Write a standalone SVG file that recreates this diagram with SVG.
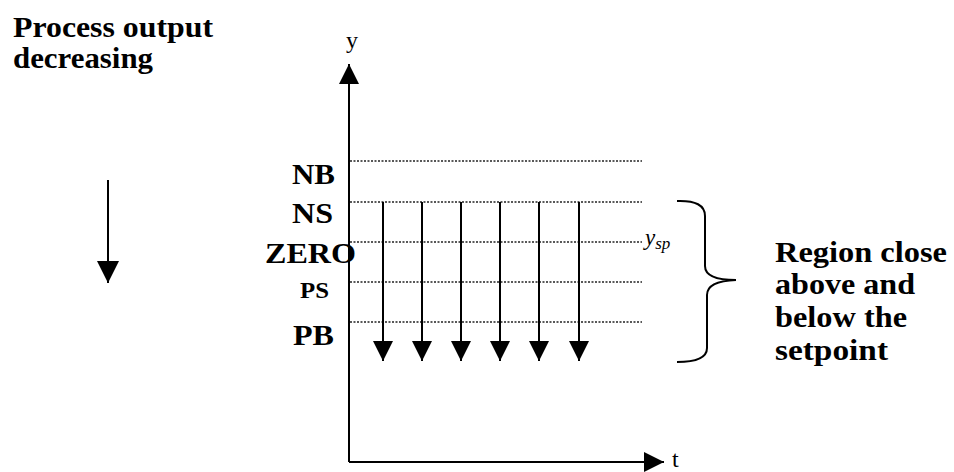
<svg xmlns="http://www.w3.org/2000/svg" width="954" height="472" viewBox="0 0 954 472">
<style>
.b{font-family:"Liberation Serif","Times New Roman",serif;font-weight:bold;fill:#000}
.r{font-family:"Liberation Serif","Times New Roman",serif;fill:#000}
.ax{stroke:#000;stroke-width:2;fill:none}
.dot{stroke:#222;stroke-width:1.3;stroke-dasharray:2 1.5;fill:none}
.arr{stroke:#000;stroke-width:2;fill:none}
</style>
<defs>
<marker id="ah" markerWidth="20" markerHeight="20" refX="20" refY="10" orient="auto" markerUnits="userSpaceOnUse">
<path d="M0,0 L20,10 L0,20 Z" fill="#000"/>
</marker>
<marker id="ahl" markerWidth="22" markerHeight="22" refX="22" refY="11" orient="auto" markerUnits="userSpaceOnUse">
<path d="M0,0 L22,11 L0,22 Z" fill="#000"/>
</marker>
</defs>
<rect width="954" height="472" fill="#fff"/>
<g id="title">
<text class="b" x="13" y="37" font-size="30" textLength="200" lengthAdjust="spacingAndGlyphs">Process output</text>
<text class="b" x="13" y="68" font-size="30" textLength="140" lengthAdjust="spacingAndGlyphs">decreasing</text>
</g>
<g id="axes">
<line class="ax" x1="349" y1="462" x2="349" y2="64" marker-end="url(#ah)"/>
<line class="ax" x1="349" y1="462" x2="664" y2="462" marker-end="url(#ah)"/>
<text class="r" x="352" y="48" font-size="24" text-anchor="middle">y</text>
<text class="r" x="672" y="467" font-size="24">t</text>
</g>
<g id="levels">
<line class="dot" x1="350" y1="161" x2="642" y2="161"/>
<line class="dot" x1="350" y1="202" x2="642" y2="202"/>
<line class="dot" x1="350" y1="242" x2="642" y2="242"/>
<line class="dot" x1="350" y1="282" x2="642" y2="282"/>
<line class="dot" x1="350" y1="322" x2="642" y2="322"/>
</g>
<g id="labels">
<text class="b" x="335" y="184" font-size="29" text-anchor="end" textLength="43" lengthAdjust="spacingAndGlyphs">NB</text>
<text class="b" x="333" y="223" font-size="29" text-anchor="end" textLength="41" lengthAdjust="spacingAndGlyphs">NS</text>
<text class="b" x="356" y="263" font-size="29" text-anchor="end" textLength="91" lengthAdjust="spacingAndGlyphs">ZERO</text>
<text class="b" x="329" y="298" font-size="23" text-anchor="end" textLength="29" lengthAdjust="spacingAndGlyphs">PS</text>
<text class="b" x="334" y="345" font-size="29" text-anchor="end" textLength="41" lengthAdjust="spacingAndGlyphs">PB</text>
<text class="r" x="645" y="245" font-size="23" font-style="italic">y<tspan font-size="17" dy="4">sp</tspan></text>
</g>
<g id="connectors">
<line class="arr" x1="108" y1="180" x2="108" y2="283" marker-end="url(#ahl)"/>
<line class="arr" x1="383" y1="202" x2="383" y2="361" marker-end="url(#ah)"/>
<line class="arr" x1="422" y1="202" x2="422" y2="361" marker-end="url(#ah)"/>
<line class="arr" x1="461" y1="202" x2="461" y2="361" marker-end="url(#ah)"/>
<line class="arr" x1="500" y1="202" x2="500" y2="361" marker-end="url(#ah)"/>
<line class="arr" x1="539" y1="202" x2="539" y2="361" marker-end="url(#ah)"/>
<line class="arr" x1="579" y1="202" x2="579" y2="361" marker-end="url(#ah)"/>
</g>
<g id="brace">
<path d="M677,201 Q705,200 705,216 L705,266 Q705,280 736,280 Q707,281 707,295 L707,348 Q707,362 677,362" fill="none" stroke="#000" stroke-width="2"/>
</g>
<g id="region">
<text class="b" x="775" y="262" font-size="29" textLength="172" lengthAdjust="spacingAndGlyphs">Region close</text>
<text class="b" x="775" y="294" font-size="29" textLength="140" lengthAdjust="spacingAndGlyphs">above and</text>
<text class="b" x="775" y="327" font-size="29" textLength="132" lengthAdjust="spacingAndGlyphs">below the</text>
<text class="b" x="775" y="360" font-size="29" textLength="113" lengthAdjust="spacingAndGlyphs">setpoint</text>
</g>
</svg>
